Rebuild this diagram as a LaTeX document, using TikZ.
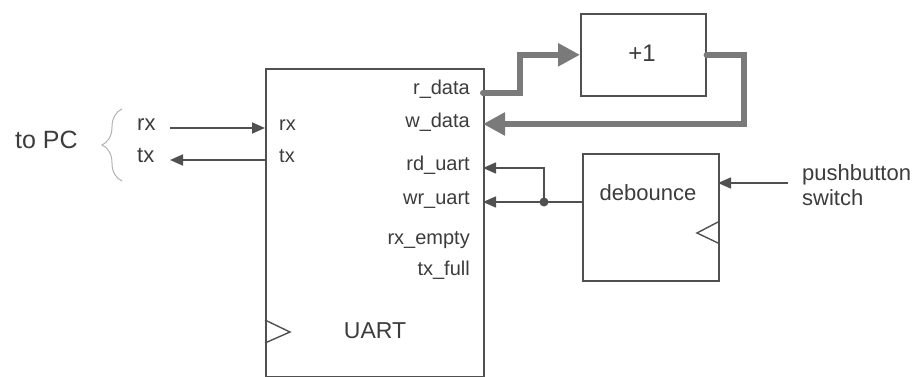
\documentclass[tikz,border=0pt]{standalone}
\usepackage{fontspec}
\setmainfont{Liberation Sans}
\usetikzlibrary{arrows.meta,decorations.pathreplacing}
\definecolor{ink}{HTML}{3C3C3C}
\definecolor{wire}{HTML}{505050}
\definecolor{buscol}{HTML}{7A7A7A}
\begin{document}
\begin{tikzpicture}[x=1pt,y=-1pt,
  every node/.style={text=ink, inner sep=0pt},
  blk/.style={draw=wire, line width=1.6pt, fill=none},
  port/.style={font=\fontsize{20}{22}\selectfont},
  lbl/.style={font=\fontsize{22}{24}\selectfont},
  sig/.style={draw=wire, line width=1.6pt},
  sigarrow/.style={sig, -{Triangle[length=13pt,width=11pt]}},
  bus/.style={draw=buscol, line width=6pt, line cap=round, line join=miter,
    -{Triangle[length=22pt,width=22pt]}},
  clk/.style={draw=wire, line width=1.4pt}
]
\useasboundingbox (0,0) rectangle (916,377);

% blocks
\node[blk, anchor=north west, minimum width=218pt, minimum height=308pt] (uart) at (265,68) {};
\node[blk, anchor=north west, minimum width=125pt, minimum height=82pt] (plus) at (580,13) {};
\node[blk, anchor=north west, minimum width=136pt, minimum height=127pt] (deb) at (582,153) {};

\node[font=\fontsize{24}{26}\selectfont] (plustxt) at (642,53) {+1};
\node[lbl] (debtxt) at (648,193) {debounce};
\node[font=\fontsize{23}{25}\selectfont] (uarttxt) at (375,331) {UART};

% clock triangles
\draw[clk] (265,320) -- (290,332) -- (265,343);
\draw[clk] (718,222) -- (697,233) -- (718,243);

% port labels inside UART
\node[port, anchor=mid east] (prdata) at (470,92) {r\_data};
\node[port, anchor=mid east] (pwdata) at (470,125) {w\_data};
\node[port, anchor=mid east] (prduart) at (470,168) {rd\_uart};
\node[port, anchor=mid east] (pwruart) at (470,202) {wr\_uart};
\node[port, anchor=mid east] (prxempty) at (470,242) {rx\_empty};
\node[port, anchor=mid east] (ptxfull) at (470,273) {tx\_full};
\node[port, anchor=mid west] (prx) at (279,128) {rx};
\node[port, anchor=mid west] (ptx) at (279,160) {tx};

% outside labels
\node[lbl, anchor=mid west] (orx) at (137,128) {rx};
\node[lbl, anchor=mid west] (otx) at (137,160) {tx};
\node[font=\fontsize{25}{27}\selectfont, anchor=mid west] (topc) at (15,146) {to PC};
\node[lbl, anchor=mid west] (pb1) at (802,178) {pushbutton};
\node[lbl, anchor=mid west] (pb2) at (802,203) {switch};

% brace
\draw[draw=gray!60, line width=1pt, decorate,
  decoration={brace, amplitude=20pt, aspect=0.5}]
  (122,181) -- (122,109);

% coordinates for connections
\coordinate (rxsrc) at (170,128);
\coordinate (rxdst) at (265,128);
\coordinate (txsrc) at (265,160);
\coordinate (txdst) at (170,160);
\coordinate (rdata) at (483,93);
\coordinate (wdata) at (483,124);
\coordinate (rduart) at (483,168);
\coordinate (wruart) at (483,202);
\coordinate (debout) at (582,202);
\coordinate (junc) at (544,202);
\coordinate (pbsrc) at (788,183);
\coordinate (pbdst) at (718,183);

% connectors
\draw[sigarrow] (rxsrc) -- (rxdst);
\draw[sigarrow] (txsrc) -- (txdst);
\draw[sigarrow] (debout) -- (wruart);
\draw[sigarrow] (junc) |- (rduart);
\fill[wire] (junc) circle (4.5pt);
\draw[sigarrow] (pbsrc) -- (pbdst);

\draw[bus] (rdata) -- ++(37,0) |- (plus.west);
\draw[bus] (plus.east) -- ++(37,0) |- (wdata);
\end{tikzpicture}
\end{document}
